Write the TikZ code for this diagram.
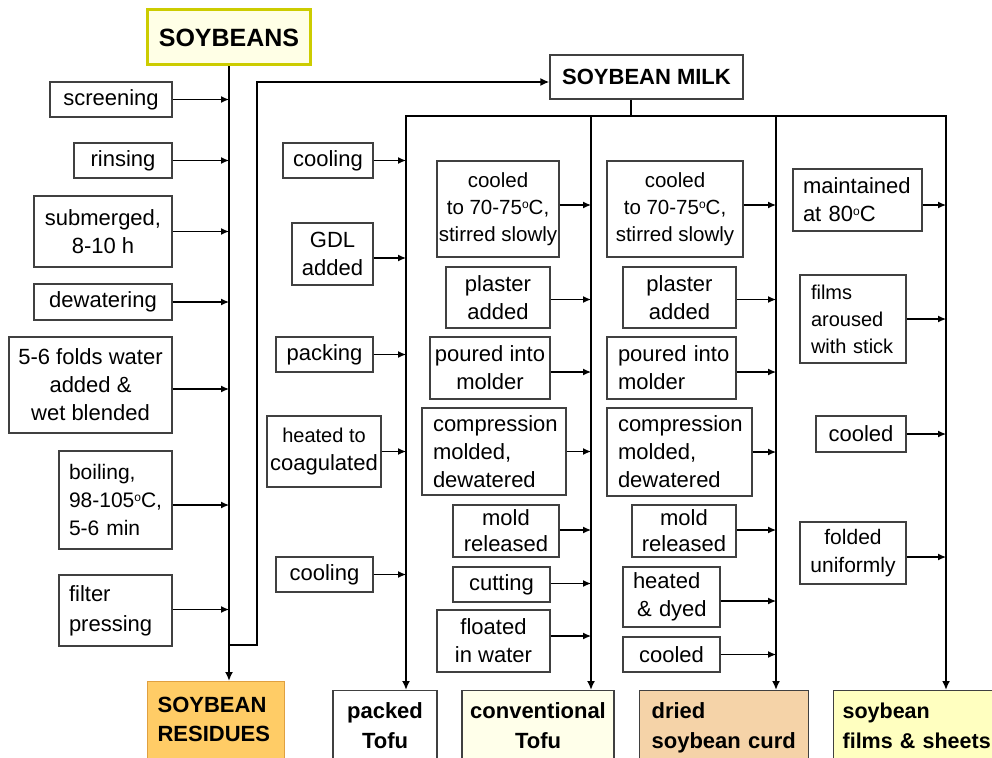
\documentclass[tikz,border=0pt]{standalone}
\usepackage{fontspec}
\setmainfont{Liberation Sans}
\usetikzlibrary{arrows.meta}
\newcommand\myfn{\fontsize{22}{28}\selectfont}
\newcommand\myfs{\fontsize{20}{26}\selectfont}
\newcommand\myfm{\fontsize{21}{28}\selectfont}
\newcommand\myfb{\fontsize{22}{30}\selectfont\bfseries}
\newcommand\dg{\raisebox{0.55ex}{\fontsize{12}{12}\selectfont o}}
\definecolor{soyborder}{HTML}{CCCC00}
\definecolor{soyfill}{HTML}{FFFFE6}
\definecolor{resfill}{HTML}{FFCC66}
\definecolor{resborder}{HTML}{E0A040}
\definecolor{convfill}{HTML}{FFFFEA}
\definecolor{dryfill}{HTML}{F5D3A8}
\definecolor{filmfill}{HTML}{FFFFC0}
\definecolor{bgray}{HTML}{404040}
\tikzset{
  box/.style={draw=bgray, line width=1.2pt, fill=white, inner sep=0pt, align=center, font=\myfn},
  sz/.style 2 args={minimum width=#1pt, minimum height=#2pt},
  botbox/.style={draw=bgray, line width=1.2pt, font=\myfb, inner xsep=0pt, inner ysep=12pt, align=center},
  arr/.style={-{Latex[length=8pt,width=7pt]}, line width=1.2pt},
  vline/.style={line width=2pt},
  tip/.style={-{Latex[length=9pt,width=8pt]}},
}
\begin{document}
\begin{tikzpicture}[x=1pt,y=-1pt]
\useasboundingbox (0,0) rectangle (992,757);

% headers
\node[draw=soyborder, fill=soyfill, line width=3pt, sz={163}{55}, font=\fontsize{25}{30}\selectfont\bfseries] (soy) at (229,37.5) {SOYBEANS};
\node[box, sz={193}{44}, font=\myfn\bfseries] (milk) at (646.5,77) {SOYBEAN MILK};

% bottom products
\node[botbox, anchor=north west, fill=resfill, draw=resborder, align=left, text width=117pt, inner xsep=10pt, inner ysep=16pt, font=\fontsize{22}{29}\selectfont\bfseries] (res) at (147,681) {SOYBEAN\\RESIDUES};
\node[botbox, anchor=north, fill=white, minimum width=104pt] (pk) at (385,690) {packed\\Tofu};
\node[botbox, anchor=north, fill=convfill, minimum width=152pt] (cv) at (538,690) {conventional\\Tofu};
\node[botbox, anchor=north west, fill=dryfill, align=left, text width=145pt, inner xsep=12pt] (dr) at (639,690) {\mbox{dried}\\\mbox{soybean curd}};
\node[botbox, anchor=north west, fill=filmfill, align=left, text width=170pt, inner xsep=9pt, font=\fontsize{21.5}{30}\selectfont\bfseries] (fs) at (833,690) {\mbox{soybean}\\\mbox{films \& sheets}};

% line coordinates
\coordinate (L0) at (229,0);
\coordinate (J) at (229,645);
\coordinate (K) at (257,645);
\coordinate (bar) at (631,116);
\coordinate (T1) at (406,116);
\coordinate (T2) at (591,116);
\coordinate (T3) at (776,116);
\coordinate (T4) at (946,116);

% main lines
\draw[vline, tip] (soy.south) -- (soy.south |- res.north);
\draw[vline, tip] (J) -- (K) |- ([yshift=-5pt]milk.west);
\draw[vline] (milk.south -| bar) -- (bar);
\draw[vline] (T2) -- (T3);
\draw[vline, tip] (T2) -- (T1) -- (T1 |- pk.north);
\draw[vline, tip] (T3) -- (T4) -- (T4 |- fs.north);
\draw[vline, tip] (T2) -- (T2 |- cv.north);
\draw[vline, tip] (T3) -- (T3 |- dr.north);

% left column
\node[box, sz={122}{35}] (scr) at (111,99.5) {screening};
\node[box, sz={98}{35}] (rin) at (123,160.5) {rinsing};
\node[box, sz={138}{71}] (sub) at (103,231.5) {submerged,\\8-10 h};
\node[box, sz={138}{36}] (dew) at (103,302) {dewatering};
\node[box, sz={163}{96}] (fold) at (90.5,385) {5-6 folds water\\added \&\\wet blended};
\node[box, sz={113}{98}, align=left, text width=93pt, font=\myfm] (boil) at (115.5,500) {\mbox{boiling,}\\\mbox{98-105\dg C,}\\\mbox{5-6 min}};
\node[box, sz={113}{71}, align=left, text width=93pt, font=\fontsize{22}{30}\selectfont] (fil) at (115.5,610.5) {\mbox{filter}\\\mbox{pressing}};
\foreach \n/\s in {scr/0, rin/0, sub/0, dew/0, fold/-4, boil/-5, fil/1}
  \draw[arr] ([yshift=\s pt]\n.east) -- ([yshift=\s pt]\n.east -| L0);

% packed tofu column
\node[box, sz={90}{35}] (pc1) at (328,160.5) {cooling};
\node[box, sz={81}{62}] (gdl) at (332.5,254) {GDL\\added};
\node[box, sz={97}{35}] (pkg) at (324.5,354.5) {packing};
\node[box, sz={114}{71}] (hco) at (324,451.5) {{\myfs heated to}\\coagulated};
\node[box, sz={97}{35}] (pc2) at (324.5,574.5) {cooling};
\foreach \n/\s in {pc1/0, gdl/-4, pkg/0, hco/0, pc2/0}
  \draw[arr] ([yshift=\s pt]\n.east) -- ([yshift=\s pt]\n.east -| T1);

% conventional tofu column
\node[box, sz={122}{96}, font=\fontsize{20.5}{27}\selectfont] (cv1) at (498,209) {cooled\\to 70-75\dg C,\\stirred slowly};
\node[box, sz={104}{61}] (cv2) at (498,297.5) {plaster\\added};
\node[box, sz={120}{62}] (cv3) at (490,368) {poured into\\molder};
\node[box, sz={144}{87}, align=left, text width=122pt] (cv4) at (494,451.5) {\mbox{compression}\\\mbox{molded,}\\\mbox{dewatered}};
\node[box, sz={106}{52}, font=\fontsize{22}{26}\selectfont] (cv5) at (506,531) {mold\\released};
\node[box, sz={97}{35}] (cv6) at (501.5,584.5) {cutting};
\node[box, sz={113}{62}] (cv7) at (493.5,641) {floated\\in water};
\foreach \n/\s in {cv1/4, cv2/-2, cv3/-4, cv4/0, cv5/1, cv6/1, cv7/5}
  \draw[arr] ([yshift=\s pt]\n.east) -- ([yshift=\s pt]\n.east -| T2);

% dried curd column
\node[box, sz={136}{96}, font=\fontsize{20.5}{27}\selectfont] (dr1) at (675,209) {cooled\\to 70-75\dg C,\\stirred slowly};
\node[box, sz={113}{61}] (dr2) at (679.5,297.5) {plaster\\added};
\node[box, sz={129}{62}, align=left, text width=107pt] (dr3) at (671.5,368) {\mbox{poured into}\\\mbox{molder}};
\node[box, sz={145}{88}, align=left, text width=123pt] (dr4) at (679.5,452) {\mbox{compression}\\\mbox{molded,}\\\mbox{dewatered}};
\node[box, sz={104}{52}, font=\fontsize{22}{26}\selectfont] (dr5) at (684,531) {mold\\released};
\node[box, sz={97}{60}, align=left, text width=77pt] (dr6) at (671.5,597) {\mbox{heated}\\\mbox{\hspace*{4pt}\& dyed}};
\node[box, sz={97}{35}] (dr7) at (671.5,654.5) {cooled};
\foreach \n/\s in {dr1/4, dr2/-2, dr3/-4, dr4/0, dr5/1, dr6/-4, dr7/0}
  \draw[arr] ([yshift=\s pt]\n.east) -- ([yshift=\s pt]\n.east -| T3);

% films column
\node[box, sz={129}{62}, align=left, text width=109pt] (fm1) at (857.5,200) {\mbox{maintained}\\\mbox{at 80\dg C}};
\node[box, sz={106}{88}, align=left, text width=84pt, font=\fontsize{20}{27}\selectfont] (fm2) at (853,319) {\mbox{films}\\\mbox{aroused}\\\mbox{with stick}};
\node[box, sz={90}{36}] (fm3) at (861,434) {cooled};
\node[box, sz={106}{62}, font=\myfm] (fm4) at (853,553) {folded\\uniformly};
\foreach \n/\s in {fm1/-5, fm2/0, fm3/0, fm4/-4}
  \draw[arr] ([yshift=\s pt]\n.east) -- ([yshift=\s pt]\n.east -| T4);
\end{tikzpicture}
\end{document}
